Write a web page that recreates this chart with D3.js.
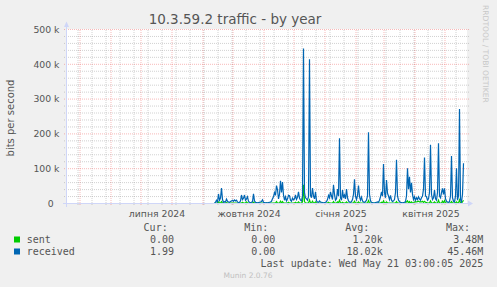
<!DOCTYPE html>
<html>
<head>
<meta charset="utf-8">
<script src="https://d3js.org/d3.v7.min.js"></script>
<style>
body { margin: 0; background: #f0f0f0; }
svg text { font-family: "DejaVu Sans", sans-serif; fill: #555; }
.mono { font-family: "DejaVu Sans Mono", monospace !important; font-size: 10px; }
</style>
</head>
<body>
<div id="chart"></div>
<script>
// daily values in kbit/s, first point = 2024-09-13
var firstDay = Date.UTC(2024, 8, 13);

var received = [
  0,2,8,3,26,8,14,43,10,2,
  4,3,11,5,3,2,4,6,8,5,
  9,6,8,3,1,2,6,23,10,14,
  23,8,12,18,5,2,1,2,4,26,
  6,2,1,0,1,2,3,4,9,2,
  1,0,1,0,1,2,3,5,12,18,
  30,22,50,38,12,25,64,30,60,23,
  8,18,6,12,22,21,8,5,14,9,
  12,23,10,16,32,14,8,6,20,444,
  30,15,12,8,18,413,22,15,43,20,
  12,32,6,3,2,6,3,2,1,0,
  1,2,4,10,22,15,32,20,10,52,
  25,8,12,40,20,186,15,8,37,15,
  23,12,40,15,6,3,2,4,10,25,
  68,20,10,22,50,18,8,17,6,3,
  2,4,8,20,203,25,6,2,1,0,
  0,1,2,3,2,8,18,32,20,112,
  30,15,66,28,20,10,22,8,4,6,
  10,30,124,20,8,4,2,1,0,1,
  2,4,20,100,40,75,30,58,25,10,
  18,8,15,10,18,12,8,15,20,40,
  131,20,18,8,12,30,167,25,10,15,
  37,12,8,30,172,20,15,30,42,25,
  42,12,5,3,2,4,20,135,15,5,
  3,20,100,8,20,270,10,3,25,114
];

var sent = [
  0,0,0,0,3,0,0,4,0,0,
  0,0,1,0,0,0,0,0,0,0,
  0,0,0,0,0,0,0,0,2,0,
  0,0,3,0,0,0,0,0,0,2,
  0,0,0,0,0,0,0,0,0,0,
  0,0,0,0,0,0,0,0,0,0,
  0,0,4,0,0,0,5,0,4,0,
  0,0,0,0,2,0,0,0,0,0,
  0,2,0,0,3,0,0,0,3,52,
  4,0,0,0,0,9,0,0,5,0,
  0,3,0,0,0,0,0,0,0,0,
  0,0,0,0,2,0,0,0,0,4,
  0,0,0,3,0,8,0,0,2,0,
  0,0,3,0,0,0,0,0,0,0,
  5,0,0,0,3,0,0,0,0,0,
  0,0,0,0,7,0,0,0,0,0,
  0,0,0,0,0,0,0,2,0,6,
  0,0,3,0,0,0,0,0,0,0,
  0,0,4,0,0,0,0,0,0,0,
  0,0,3,6,0,4,0,3,0,0,
  3,4,3,4,5,3,4,3,5,2,
  5,2,1,0,0,0,6,0,0,0,
  3,0,0,0,8,0,0,0,5,0,
  7,0,0,0,0,0,0,4,0,0,
  0,0,3,0,0,9,0,0,3,8
];

var yTicks = [0, 100, 200, 300, 400, 500];
var yTickLabels = ["0\u2007", "100 k", "200 k", "300 k", "400 k", "500 k"];
var monthLabels = ["липня 2024", "жовтня 2024", "січня 2025", "квітня 2025"];
var labelDates = [Date.UTC(2024,6,17), Date.UTC(2024,9,17), Date.UTC(2025,0,17), Date.UTC(2025,3,17)];

var seriesNames = ["sent", "received"];
var seriesColors = ["#00cc00", "#0066b3"];
var curVals = ["0.00", "1.99"];
var minVals = ["0.00", "0.00"];
var avgVals = ["1.20k", "18.02k"];
var maxVals = ["3.48M", "45.46M"];

var W = 497, H = 287;
var plotL = 67, plotR = 467, plotT = 29, plotB = 203;

var svg = d3.select("#chart").append("svg")
    .attr("width", W).attr("height", H);

svg.append("rect").attr("width", W).attr("height", H).attr("fill", "#f0f0f0");
svg.append("rect").attr("x", plotL).attr("y", plotT)
    .attr("width", plotR - plotL).attr("height", plotB - plotT).attr("fill", "#fff");

var x = d3.scaleUtc()
    .domain([Date.UTC(2024,3,18,12), Date.UTC(2025,4,23,12)])
    .range([plotL, plotR]);
var y = d3.scaleLinear().domain([0, 500]).range([plotB, plotT]);

var minorCol = "rgba(140,140,140,0.4)", majorCol = "rgba(235,70,70,0.38)";

// horizontal grid
var minorY = d3.range(20, 500, 20).filter(function(d){ return d % 100 != 0; });
svg.append("g").attr("transform", "translate(64,0)")
  .call(d3.axisLeft(y).tickValues(minorY).tickSize(-405).tickFormat(""))
  .call(function(g){ g.select(".domain").remove(); g.selectAll("line").attr("stroke", minorCol).attr("stroke-dasharray", "1,1"); });

// vertical grid: every other Monday + month starts
var weeks = d3.utcMonday.range(new Date(Date.UTC(2024,3,29)), x.domain()[1], 2);
svg.append("g").attr("transform", "translate(0,205)")
  .call(d3.axisBottom(x).tickValues(weeks).tickSize(-176).tickFormat(""))
  .call(function(g){ g.select(".domain").remove(); g.selectAll("line").attr("stroke", minorCol).attr("stroke-dasharray", "1,1"); });

var months = d3.utcMonth.range(x.domain()[0], x.domain()[1]);
svg.append("g").attr("transform", "translate(0,205)")
  .call(d3.axisBottom(x).tickValues(months).tickSize(-176).tickFormat(""))
  .call(function(g){ g.select(".domain").remove(); g.selectAll("line").attr("stroke", majorCol).attr("stroke-dasharray", "1,1"); });

svg.append("g").attr("transform", "translate(64,0)")
  .call(d3.axisLeft(y).tickValues(yTicks.slice(1)).tickSize(-405).tickFormat(""))
  .call(function(g){ g.select(".domain").remove(); g.selectAll("line").attr("stroke", majorCol).attr("stroke-dasharray", "1,1"); });

// y labels
svg.append("g").attr("transform", "translate(59.5,0)")
  .call(d3.axisLeft(y).tickValues(yTicks).tickSize(0).tickPadding(0)
    .tickFormat(function(d, i){ return yTickLabels[i]; }))
  .call(function(g){
    g.select(".domain").remove();
    g.selectAll("text").attr("font-size", "9.3px").attr("fill", "#555")
      .attr("font-family", "DejaVu Sans").attr("dy", "0.36em");
  });

// x labels
svg.append("g").attr("transform", "translate(0,216.5)")
  .call(d3.axisBottom(x).tickValues(labelDates.map(function(t){ return new Date(t); }))
    .tickSize(0).tickFormat(function(d, i){ return monthLabels[i]; }))
  .call(function(g){
    g.select(".domain").remove();
    g.selectAll("text").attr("y", 0).attr("dy", 0).attr("font-size", "9.3px")
      .attr("fill", "#555").attr("font-family", "DejaVu Sans");
  });

// data lines (sent below, received on top)
function toPoints(arr) {
  return arr.map(function(v, i){ return { date: new Date(firstDay + i * 86400000), v: v }; });
}
var line = d3.line().x(function(d){ return x(d.date); }).y(function(d){ return y(d.v); });

svg.append("path").datum(toPoints(sent))
  .attr("fill", "none").attr("stroke", seriesColors[0]).attr("stroke-width", 1.2).attr("d", line);
svg.append("path").datum(toPoints(received))
  .attr("fill", "none").attr("stroke", seriesColors[1]).attr("stroke-width", 1.2).attr("d", line);

// axes with arrows
var axisCol = "#cfd6f8";
svg.append("line").attr("x1", 63).attr("x2", 469).attr("y1", plotB + 0.5).attr("y2", plotB + 0.5)
  .attr("stroke", axisCol);
svg.append("path").attr("d", "M468,200.5L473,203.5L468,206.5Z").attr("fill", axisCol);
svg.append("line").attr("x1", plotL - 0.5).attr("x2", plotL - 0.5).attr("y1", 207).attr("y2", 26)
  .attr("stroke", axisCol);
svg.append("path").attr("d", "M64,27L66.5,21.5L69,27Z").attr("fill", axisCol);

// title and axis label
svg.append("text").attr("x", 235).attr("y", 23.5).attr("text-anchor", "middle")
  .attr("font-size", "13.5px").text("10.3.59.2 traffic - by year");
svg.append("text").attr("transform", "translate(13.5,118) rotate(-90)")
  .attr("text-anchor", "middle").attr("font-size", "10px").text("bits per second");
svg.append("text").attr("transform", "translate(483,5) rotate(90)")
  .attr("font-size", "7.6px").style("fill", "#c8c8c8").text("RRDTOOL / TOBI OETIKER");

// legend
var headers = ["Cur:", "Min:", "Avg:", "Max:"];
var headerX = [167.7, 268.3, 369.3, 470];
var colX = [174, 275.3, 382.7, 483.3];
headers.forEach(function(h, i){
  svg.append("text").attr("class", "mono").attr("x", headerX[i]).attr("y", 231)
    .attr("text-anchor", "end").text(h);
});
var cols = [curVals, minVals, avgVals, maxVals];
seriesNames.forEach(function(name, r){
  var by = 242.5 + r * 12;
  svg.append("rect").attr("x", 14).attr("y", by - 6).attr("width", 6).attr("height", 6)
    .attr("fill", seriesColors[r]);
  svg.append("text").attr("class", "mono").attr("x", 26.7).attr("y", by).text(name);
  cols.forEach(function(c, i){
    svg.append("text").attr("class", "mono").attr("x", colX[i]).attr("y", by)
      .attr("text-anchor", "end").text(c[r]);
  });
});
svg.append("text").attr("class", "mono").attr("x", 483.3).attr("y", 266.5)
  .attr("text-anchor", "end").text("Last update: Wed May 21 03:00:05 2025");
svg.append("text").attr("x", 248).attr("y", 278.3).attr("text-anchor", "middle")
  .attr("font-size", "7.5px").style("fill", "#c0c0c0").text("Munin 2.0.76");
</script>
</body>
</html>
